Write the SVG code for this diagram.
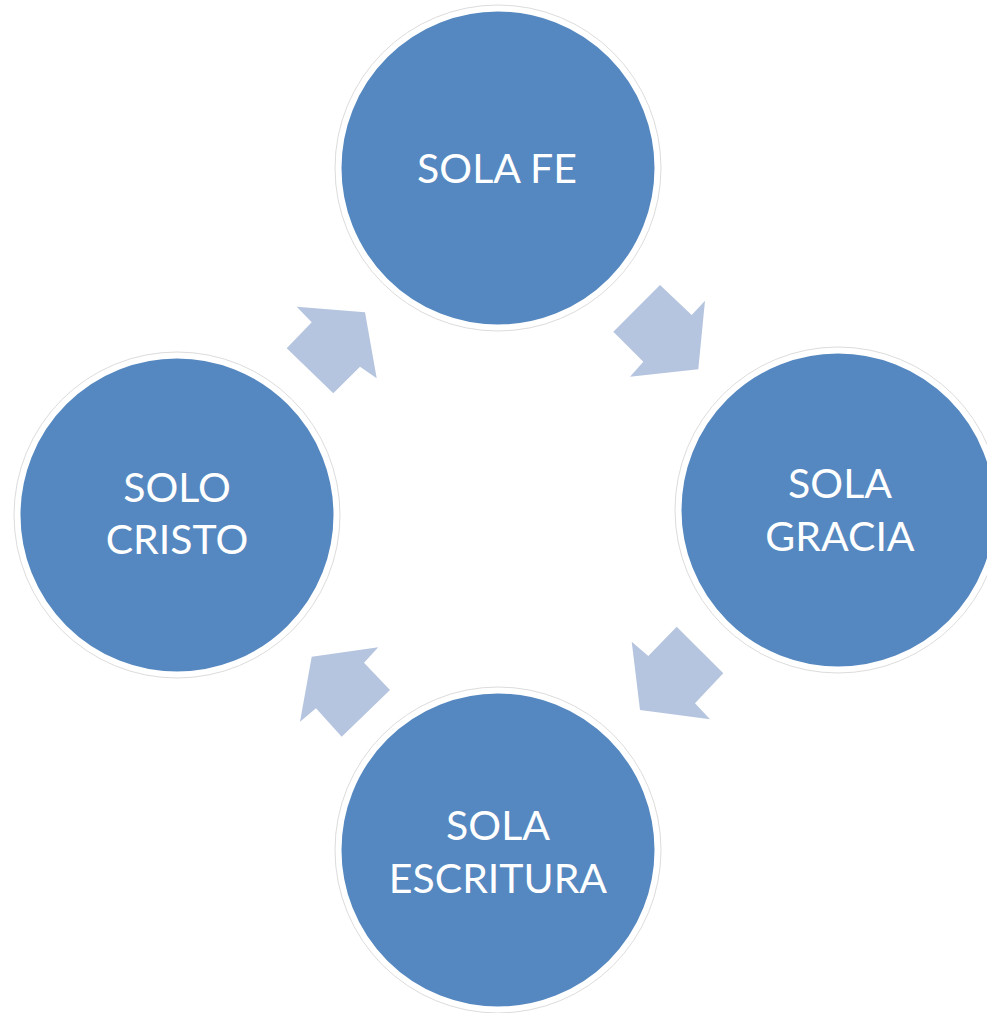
<svg xmlns="http://www.w3.org/2000/svg" width="987" height="1013" viewBox="0 0 987 1013">
<style>
.ring{fill:none;stroke:#dcdcdc;stroke-width:1}
.node{fill:#5588C0;stroke:#ffffff;stroke-width:5}
.lbl{fill:#ffffff;font-family:Lato,"Open Sans",sans-serif;font-size:41px;text-anchor:middle}
.arr{fill:#B6C5DF}
</style>
<rect width="987" height="1013" fill="#ffffff"/>
<g id="connectors">
<polygon class="arr" points="296.7,306.7 365,312.3 376.7,378.3 360,366.7 333.3,393.3 286.7,348.3 311.7,322.3"/>
<polygon class="arr" points="660,285 691.7,315 705,300.7 698.3,369.3 630,376.7 643.3,361.7 613.3,331.7"/>
<polygon class="arr" points="676.7,626.7 723.3,673.3 695,703.3 710,719.3 640,710 631.7,641.7 648.3,656"/>
<polygon class="arr" points="311.7,656.7 378.3,647.3 364,662.7 390,690 341.7,736.7 316,708.3 300,721.7"/>
</g>
<g id="sola-fe">
<circle class="ring" cx="498" cy="168" r="163"/>
<circle class="node" cx="498" cy="168" r="159"/>
<text class="lbl" x="497" y="183">SOLA FE</text>
</g>
<g id="sola-gracia">
<circle class="ring" cx="838" cy="510" r="163"/>
<circle class="node" cx="838" cy="510" r="159"/>
<text class="lbl" x="840" y="498">SOLA</text>
<text class="lbl" x="840" y="551">GRACIA</text>
</g>
<g id="sola-escritura">
<circle class="ring" cx="498" cy="850" r="163"/>
<circle class="node" cx="498" cy="850" r="159"/>
<text class="lbl" x="498" y="840">SOLA</text>
<text class="lbl" x="498" y="893">ESCRITURA</text>
</g>
<g id="solo-cristo">
<circle class="ring" cx="177" cy="515" r="163"/>
<circle class="node" cx="177" cy="515" r="159"/>
<text class="lbl" x="177" y="502">SOLO</text>
<text class="lbl" x="177" y="554">CRISTO</text>
</g>
</svg>
